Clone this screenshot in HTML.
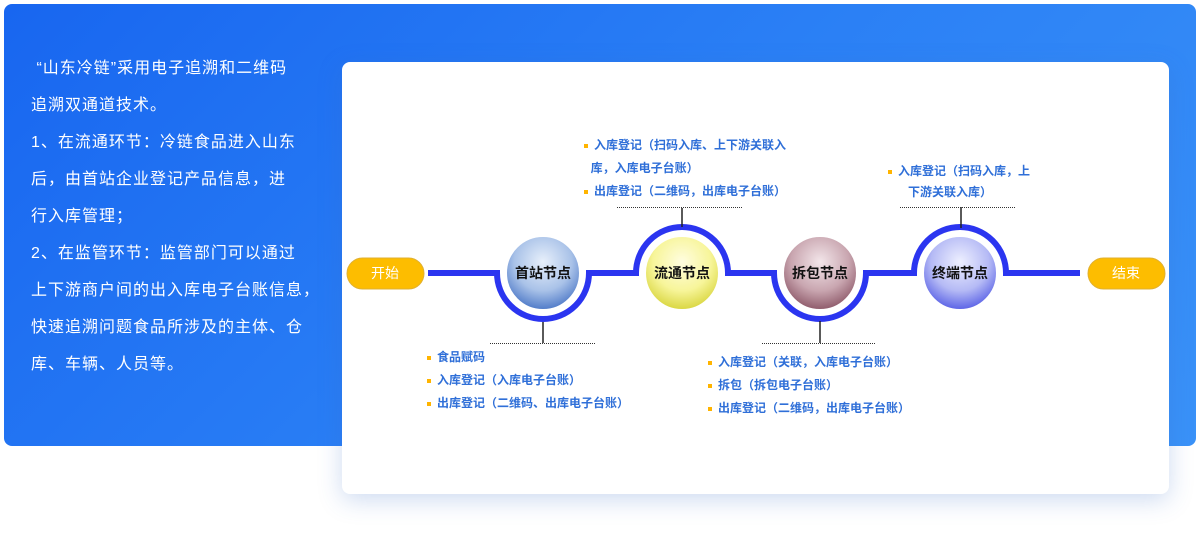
<!DOCTYPE html>
<html><head><meta charset="utf-8"><style>
html,body{margin:0;padding:0;width:1200px;height:535px;background:#fff;overflow:hidden;font-family:"Liberation Sans","Noto Sans CJK SC",sans-serif;}
.panel{position:absolute;left:4px;top:4px;width:1192px;height:442px;border-radius:8px;background:linear-gradient(135deg,#1866f0 0%,#2a7ff5 50%,#3a92f8 100%);}
.lt{position:absolute;left:31px;top:50px;color:#fff;font-size:16px;line-height:37px;white-space:nowrap;letter-spacing:1px;}
.card{position:absolute;left:342px;top:62px;width:827px;height:432px;background:#fff;border-radius:8px;box-shadow:0 6px 24px rgba(60,110,200,0.25);}
.t{position:absolute;color:#2f6fd8;font-weight:bold;font-size:12px;line-height:23px;white-space:nowrap;}
.t b{display:inline-block;width:4px;height:4px;background:#ffb400;margin-right:6px;vertical-align:middle;}
</style></head><body>
<div class="panel"></div>
<div class="lt">&nbsp;“山东冷链”采用电子追溯和二维码<br>追溯双通道技术。<br>1、在流通环节：冷链食品进入山东<br>后，由首站企业登记产品信息，进<br>行入库管理；<br>2、在监管环节：监管部门可以通过<br>上下游商户间的出入库电子台账信息，<br>快速追溯问题食品所涉及的主体、仓<br>库、车辆、人员等。</div>
<div class="card"></div>
<svg style="position:absolute;left:0;top:0" width="1200" height="535">
<defs>
<radialGradient id="g1" cx="50%" cy="35%" r="65%"><stop offset="0" stop-color="#e8f0fb"/><stop offset="0.6" stop-color="#a9c2e8"/><stop offset="1" stop-color="#4f7ac8"/></radialGradient>
<radialGradient id="g2" cx="50%" cy="35%" r="65%"><stop offset="0" stop-color="#fffde0"/><stop offset="0.6" stop-color="#f7f59a"/><stop offset="1" stop-color="#d9d640"/></radialGradient>
<radialGradient id="g3" cx="50%" cy="35%" r="65%"><stop offset="0" stop-color="#f3e6ea"/><stop offset="0.6" stop-color="#c9a6b0"/><stop offset="1" stop-color="#8e5a6a"/></radialGradient>
<radialGradient id="g4" cx="50%" cy="35%" r="65%"><stop offset="0" stop-color="#eef0ff"/><stop offset="0.6" stop-color="#b5baf5"/><stop offset="1" stop-color="#5a62e6"/></radialGradient>
</defs>
<path d="M428 273 H497 A46 46 0 0 0 589 273 H636 A46 46 0 0 1 728 273 H774 A46 46 0 0 0 866 273 H914 A46 46 0 0 1 1006 273 H1080" fill="none" stroke="#2b35f0" stroke-width="6"/>
<circle cx="543" cy="273" r="37" fill="url(#g1)" stroke="#fff" stroke-width="2"/>
<circle cx="682" cy="273" r="37" fill="url(#g2)" stroke="#fff" stroke-width="2"/>
<circle cx="820" cy="273" r="37" fill="url(#g3)" stroke="#fff" stroke-width="2"/>
<circle cx="960" cy="273" r="37" fill="url(#g4)" stroke="#fff" stroke-width="2"/>
<g font-size="14" font-weight="bold" fill="#111" text-anchor="middle" font-family="Liberation Sans,Noto Sans CJK SC,sans-serif">
<text x="543" y="278">首站节点</text><text x="682" y="278">流通节点</text><text x="820" y="278">拆包节点</text><text x="960" y="278">终端节点</text></g>
<rect x="347" y="258" width="77" height="31" rx="15.5" fill="#fdbd00" stroke="#e0b030"/>
<rect x="1088" y="258" width="77" height="31" rx="15.5" fill="#fdbd00" stroke="#e0b030"/>
<g font-size="14" fill="#fff" text-anchor="middle" font-family="Liberation Sans,Noto Sans CJK SC,sans-serif"><text x="385" y="278">开始</text><text x="1126" y="278">结束</text></g>
<g stroke="#222" stroke-width="1.5">
<line x1="543" y1="322" x2="543" y2="343"/><line x1="682" y1="208" x2="682" y2="227"/><line x1="820" y1="321" x2="820" y2="343"/><line x1="961" y1="207" x2="961" y2="228"/></g>
<g stroke="#333" stroke-width="1" stroke-dasharray="1,1">
<line x1="490" y1="343.5" x2="596" y2="343.5"/><line x1="617" y1="207.5" x2="743" y2="207.5"/><line x1="762" y1="343.5" x2="875" y2="343.5"/><line x1="900" y1="207.5" x2="1016" y2="207.5"/></g>
</svg>
<div class="t" style="left:584px;top:134px"><b></b>入库登记（扫码入库、上下游关联入<br>&nbsp;&nbsp;库，入库电子台账）<br><b></b>出库登记（二维码，出库电子台账）</div>
<div class="t" style="left:888px;top:161px;line-height:21px"><b></b>入库登记（扫码入库，上<br><span style="padding-left:20px">下游关联入库）</span></div>
<div class="t" style="left:427px;top:346px"><b></b>食品赋码<br><b></b>入库登记（入库电子台账）<br><b></b>出库登记（二维码、出库电子台账）</div>
<div class="t" style="left:708px;top:351px"><b></b>入库登记（关联，入库电子台账）<br><b></b>拆包（拆包电子台账）<br><b></b>出库登记（二维码，出库电子台账）</div>
</body></html>
